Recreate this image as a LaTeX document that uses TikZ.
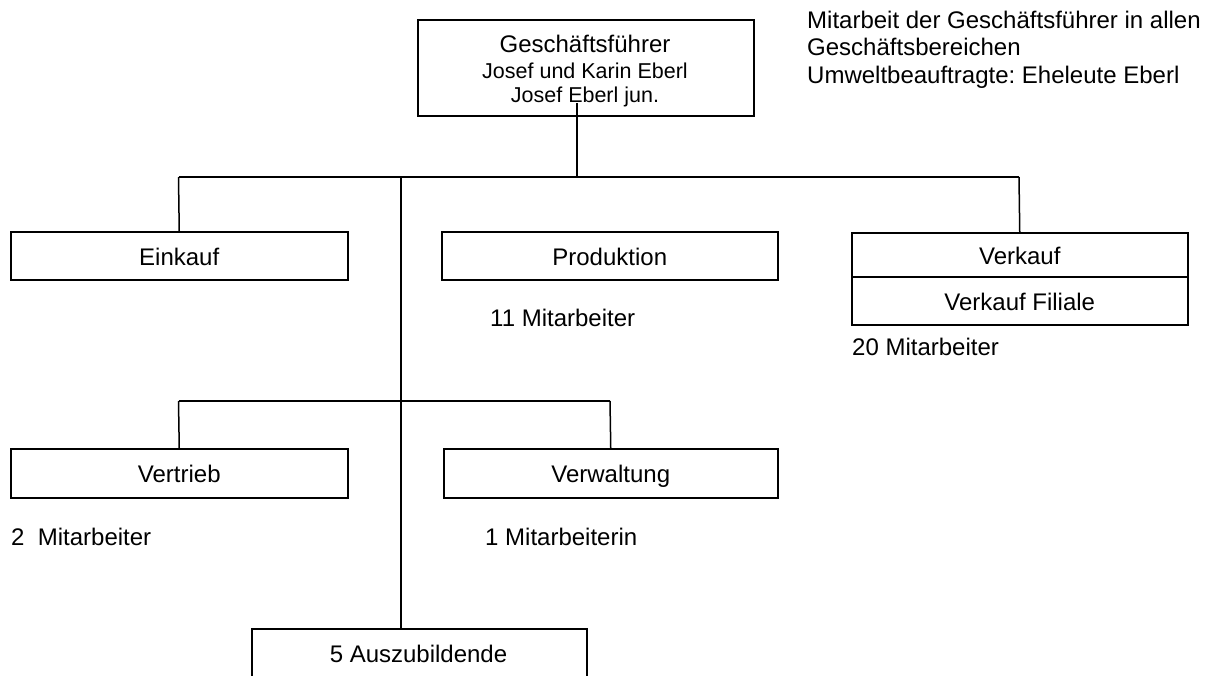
\documentclass[tikz,border=0pt]{standalone}
\usepackage{fontspec}
\setmainfont{Liberation Sans}
\frenchspacing
\begin{document}
\begin{tikzpicture}[x=1pt,y=-1pt,
  every node/.style={font=\fontsize{24}{27.6}\selectfont, inner sep=0pt},
  box/.style={draw, line width=1.5pt, anchor=north west, minimum width=#1, text height=21pt, text depth=2pt},
  box/.default=337pt,
  conn/.style={line width=1.5pt},
  lbl/.style={anchor=base west},
  small/.style={font=\fontsize{21.5}{24}\selectfont, anchor=base}]
\useasboundingbox (0,0) rectangle (1213,675);
\clip (0,0) rectangle (1213,675);
% top box
\node[box=336pt, minimum height=96pt] (gf) at (417,19) {};
\node[anchor=base] (gft1) at (585,52) {Geschäftsführer};
\node[small] (gft2) at (585,78) {Josef und Karin Eberl};
\node[small] (gft3) at (585,102) {Josef Eberl jun.};
% note
\node[lbl] (note1) at (807,28) {Mitarbeit der Geschäftsführer in allen};
\node[lbl] (note2) at (807,55.5) {Geschäftsbereichen};
\node[lbl] (note3) at (807,83) {Umweltbeauftragte: Eheleute Eberl};
% level 1
\node[box, minimum height=48pt] (einkauf) at (10,231) {Einkauf};
\node[box=336pt, minimum height=48pt] (produktion) at (441,231) {Produktion};
\node[box=336pt, minimum height=44pt, text height=22pt] (verkauf) at (851,232) {Verkauf};
\node[box=336pt, minimum height=48pt] (filiale) at (851,276) {Verkauf Filiale};
\node[lbl] (prodma) at (490,326) {11 Mitarbeiter};
\node[lbl] (verkma) at (852,355) {20 Mitarbeiter};
% level 2
\node[box, minimum height=49pt] (vertrieb) at (10,448) {Vertrieb};
\node[box=334pt, minimum height=49pt] (verwaltung) at (443,448) {Verwaltung};
\node[lbl] (vertma) at (11,545) {2\ \ Mitarbeiter};
\node[lbl] (verwma) at (485,545) {1 Mitarbeiterin};
% trainees
\node[box=335pt, minimum height=70pt] (azubi) at (251,628) {};
\node[anchor=base] (azubit) at (418.5,662) {5 Auszubildende};
% connectors
\coordinate (gfin) at (577,103);
\coordinate (j1) at (577,177);
\coordinate (hl) at (178.5,177);
\coordinate (hr) at (1019,177);
\coordinate (mtop) at (401,177);
\coordinate (hl2) at (178.5,401);
\coordinate (hr2) at (610,401);
\draw[conn] (gfin) -- (j1);
\draw[conn] (hl) -- (hr);
\draw[conn] (hl) -- (einkauf.north);
\draw[conn] (hr) -- (verkauf.north);
\draw[conn] (mtop) -- (mtop |- azubi.north);
\draw[conn] (hl2) -- (hr2);
\draw[conn] (hl2) -- (vertrieb.north);
\draw[conn] (hr2) -- (verwaltung.north);
\end{tikzpicture}
\end{document}
